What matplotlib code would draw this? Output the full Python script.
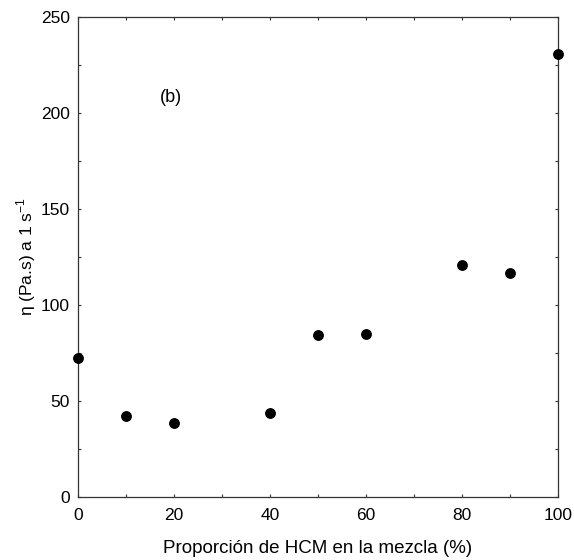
import matplotlib
matplotlib.use("Agg")
import matplotlib.pyplot as plt
from matplotlib.ticker import MultipleLocator

plt.rcParams['font.family'] = ['Liberation Sans', 'DejaVu Sans']
plt.rcParams['mathtext.fontset'] = 'custom'
plt.rcParams['mathtext.rm'] = 'Liberation Sans'

# proporcion de HCM (%) y viscosidad a 1 s-1
proporcion = [0, 10, 20, 40, 50, 60, 80, 90, 100]
viscosidad = [72.4, 42.2, 38.5, 43.8, 84.4, 84.9, 120.8, 116.7, 230.7]

fig = plt.figure(figsize=(5.74, 5.60), dpi=100)
ax = fig.add_axes([0.1359, 0.1125, 0.8362, 0.8571])
ax.plot(proporcion, viscosidad, linestyle='none', marker='o', markersize=6.8,
        color='black', clip_on=False, zorder=5)

ax.set_xlim(0, 100)
ax.set_ylim(0, 250)
ax.xaxis.set_major_locator(MultipleLocator(20))
ax.xaxis.set_minor_locator(MultipleLocator(10))
ax.yaxis.set_major_locator(MultipleLocator(50))
ax.yaxis.set_minor_locator(MultipleLocator(25))
ax.tick_params(which='both', direction='in', top=True, right=True,
               labelsize=12.5, color='#333333', width=0.8, length=2.5, pad=6)
ax.tick_params(axis='x', which='both', pad=8)
for s in ax.spines.values():
    s.set_color('#333333')
    s.set_linewidth(0.9)

ax.set_xlabel('Proporción de HCM en la mezcla (%)', fontsize=13.5, labelpad=12)
ax.set_ylabel('η (Pa.s) a 1 s$^{\\mathrm{-1}}$', fontsize=12.5, labelpad=2)
ax.text(17, 208, '(b)', fontsize=13, va='center')

fig.savefig('out.png', dpi=100)
